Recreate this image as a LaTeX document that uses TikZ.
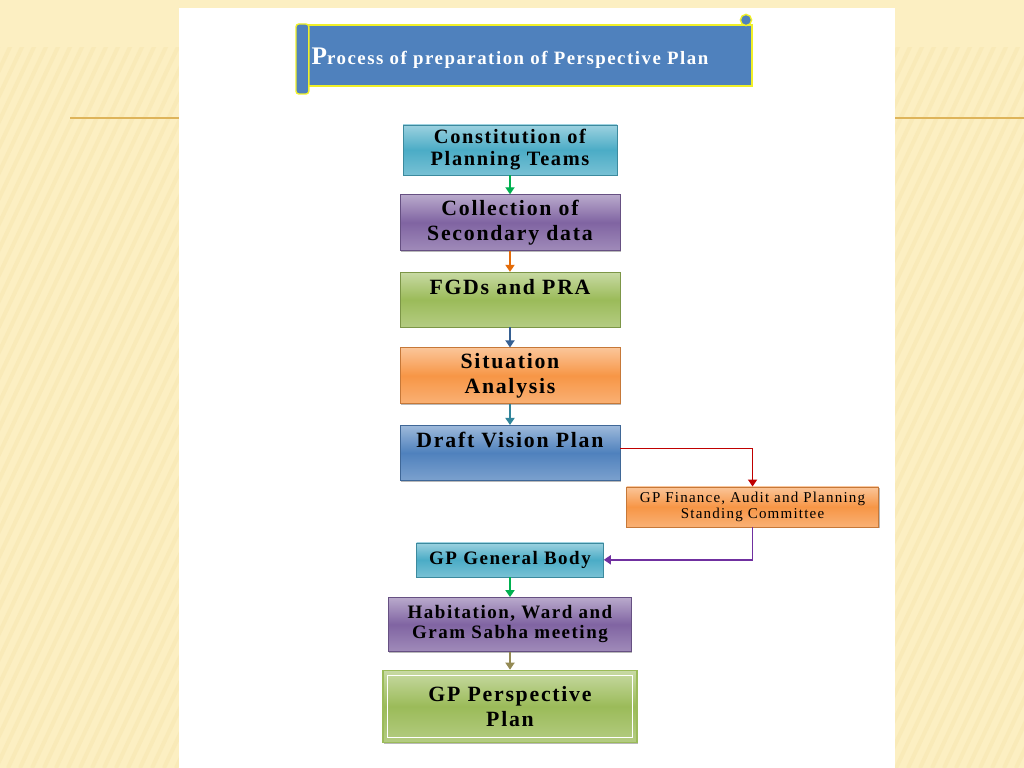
\documentclass[tikz,border=0pt]{standalone}
\usepackage{fontspec}
\setmainfont{Liberation Serif}[LetterSpace=8]
\usetikzlibrary{
    positioning,
    arrows.meta,
    shadows
}
\definecolor{SlideCream}{RGB}{252,239,194}
\definecolor{StripeCream}{RGB}{236,212,140}
\definecolor{RuleGold}{RGB}{222,180,90}
\definecolor{ScrollBlue}{RGB}{79,129,189}
\definecolor{ScrollEdge}{RGB}{240,240,40}
\definecolor{AquaBox}{RGB}{75,172,198}
\definecolor{PurpleBox}{RGB}{128,100,162}
\definecolor{GreenBox}{RGB}{155,187,89}
\definecolor{OrangeBox}{RGB}{247,150,70}
\definecolor{BlueBox}{RGB}{79,129,189}
\definecolor{ArrGreen}{RGB}{0,176,80}
\definecolor{ArrOrange}{RGB}{228,108,10}
\definecolor{ArrBlue}{RGB}{54,96,146}
\definecolor{ArrTeal}{RGB}{49,133,155}
\definecolor{ArrRed}{RGB}{192,0,0}
\definecolor{ArrPurple}{RGB}{112,48,160}
\definecolor{ArrKhaki}{RGB}{148,138,84}

\begin{document}
\begin{tikzpicture}[
    box/.style={rectangle, draw=#1!80!black, top color=#1!55!white, bottom color=#1!75!white, middle color=#1, align=center, inner sep=2pt, text=black, drop shadow={shadow xshift=0.7pt, shadow yshift=-0.9pt, opacity=0.55}},
    flow/.style={draw=#1, line width=1pt, -{Triangle[width=6.5pt,length=5pt]}},
    big/.style={font=\bfseries\fontsize{15.5}{17.8}\selectfont},
    mid/.style={font=\bfseries\fontsize{14.5}{15.6}\selectfont},
    small/.style={font=\bfseries\fontsize{13.5}{14.2}\selectfont},
]
% slide background
\fill[SlideCream] (0,0) rectangle (25.6,-19.2);
\useasboundingbox (0,0) rectangle (25.6,-19.2);
\begin{scope}
\clip (0,-1.2) rectangle (25.6,-19.2);
\foreach \sx in {-10,-9.7,...,26}
  \draw[StripeCream, line width=0.1cm, opacity=0.18] (\sx,-19.2) -- ++(9,19.2);
\end{scope}
\draw[RuleGold, line width=1pt] (1.75,-2.95) -- (4.475,-2.95);
\draw[RuleGold, line width=1pt] (22.375,-2.95) -- (25.6,-2.95);
\fill[white] (4.475,-0.2) rectangle (22.375,-19.2);

% title scroll
\filldraw[fill=ScrollBlue, draw=ScrollEdge, line width=1pt] (7.5,-0.625) rectangle (18.8,-2.15);
\filldraw[fill=ScrollBlue, draw=ScrollEdge, line width=1pt, rounded corners=2pt] (7.4,-0.6) rectangle (7.72,-2.35);
\filldraw[fill=ScrollBlue, draw=ScrollEdge, line width=1pt] (18.65,-0.5) circle (0.14);
\node[text=white, font=\bfseries] (title) at (12.75,-1.45) {{\fontsize{18}{18}\selectfont P}{\fontsize{13.4}{14}\selectfont rocess of preparation of Perspective Plan}};

% steps
\node[box=AquaBox, mid, minimum width=5.35cm, minimum height=1.25cm] (teams) at (12.75,-3.75) {Constitution of\\Planning Teams};
\node[box=PurpleBox, big, minimum width=5.5cm, minimum height=1.4cm, below=0.475cm of teams] (sdata) {Collection of\\Secondary data};
\node[box=GreenBox, big, minimum width=5.5cm, minimum height=1.375cm, below=0.525cm of sdata] (fgd) {FGDs and PRA\\\mbox{}};
\node[box=OrangeBox, big, minimum width=5.5cm, minimum height=1.4cm, below=0.5cm of fgd] (sit) {Situation\\Analysis};
\node[box=BlueBox, big, minimum width=5.5cm, minimum height=1.375cm, below=0.525cm of sit] (dvp) {Draft Vision Plan\\\mbox{}};
\node[box=OrangeBox, font=\fontsize{10.7}{11.6}\selectfont, minimum width=6.3cm, minimum height=1cm, below right=0.15cm and 0.15cm of dvp] (fin) {GP Finance, Audit and Planning\\Standing Committee};
\node[box=AquaBox, small, minimum width=4.675cm, minimum height=0.85cm, below=1.55cm of dvp] (gb) {GP General Body};
\node[box=PurpleBox, small, minimum width=6.075cm, minimum height=1.35cm, below=0.5cm of gb] (meet) {Habitation, Ward and\\Gram Sabha meeting};
\node[box=GreenBox, big, draw=GreenBox, line width=1.2pt, minimum width=6.35cm, minimum height=1.8cm, below=0.45cm of meet] (plan) {GP Perspective\\Plan};
\draw[white, line width=1pt] ([xshift=4pt,yshift=-4pt]plan.north west) rectangle ([xshift=-4pt,yshift=4pt]plan.south east);

% arrows
\draw[flow=ArrGreen] (teams.south) -- (sdata.north);
\draw[flow=ArrOrange] (sdata.south) -- (fgd.north);
\draw[flow=ArrBlue] (fgd.south) -- (sit.north);
\draw[flow=ArrTeal] (sit.south) -- (dvp.north);
\draw[flow=ArrRed] ([yshift=0.1cm]dvp.east) -| (fin.north);
\draw[flow=ArrPurple] (fin.south) |- (gb.east);
\draw[flow=ArrGreen] (gb.south) -- (meet.north);
\draw[flow=ArrKhaki] (meet.south) -- (plan.north);
\end{tikzpicture}
\end{document}
